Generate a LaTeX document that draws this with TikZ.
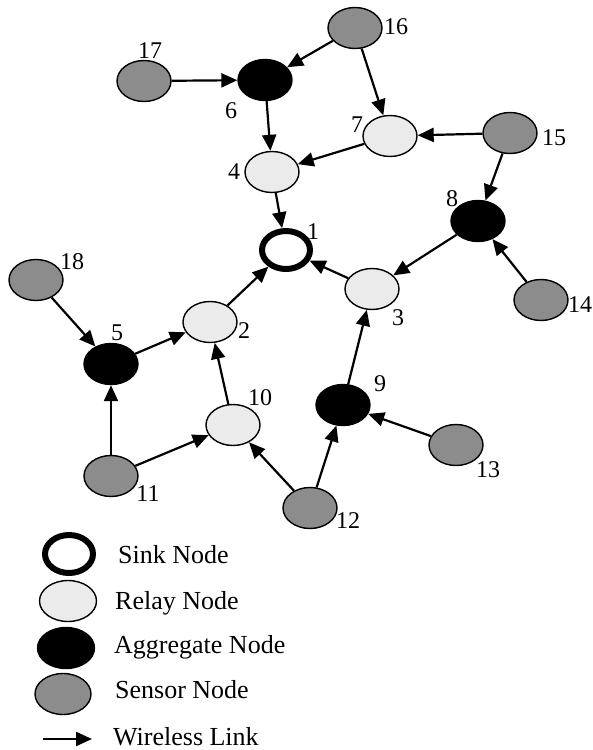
\documentclass[tikz,border=0pt]{standalone}
\usepackage{fontspec}
\setmainfont{Liberation Serif}
\usetikzlibrary{arrows.meta,shapes.geometric}
\definecolor{relayc}{HTML}{EBEBEB}
\definecolor{sensorc}{HTML}{8C8C8C}
\tikzset{
  nd/.style={ellipse, draw=black, line width=1.4pt, minimum width=54pt, minimum height=41pt, inner sep=0pt},
  relay/.style={nd, fill=relayc},
  sensor/.style={nd, fill=sensorc},
  aggr/.style={nd, fill=black},
  sink/.style={ellipse, draw=black, line width=6pt, fill=white, minimum width=48pt, minimum height=38pt, inner sep=0pt},
  lbl/.style={font=\fontsize{24}{24}\selectfont, inner sep=0pt},
  leg/.style={font=\fontsize{26}{26}\selectfont, inner sep=0pt, anchor=base west},
  link/.style={line width=2.2pt, -{Triangle[length=16pt,width=14pt]}}
}
\begin{document}
\begin{tikzpicture}[x=1pt,y=-1pt]
\useasboundingbox (0,0) rectangle (593,750);
% nodes
\node[sink] (n1) at (286,250) {};
\node[relay] (n2) at (210,322) {};
\node[relay] (n3) at (372,289) {};
\node[relay] (n4) at (272,172) {};
\node[aggr] (n5) at (111,364) {};
\node[aggr] (n6) at (265,80) {};
\node[relay] (n7) at (390,136) {};
\node[aggr] (n8) at (478,221) {};
\node[aggr] (n9) at (343,405) {};
\node[relay] (n10) at (233,425) {};
\node[sensor] (n11) at (111,476) {};
\node[sensor] (n12) at (310,508) {};
\node[sensor] (n13) at (456,445) {};
\node[sensor] (n14) at (541,300) {};
\node[sensor] (n15) at (510,133) {};
\node[sensor] (n16) at (355,28) {};
\node[sensor] (n17) at (144,81) {};
\node[sensor] (n18) at (36,280) {};
% labels
\node[lbl] (l1) at (313,232) {1};
\node[lbl] (l2) at (244,331) {2};
\node[lbl] (l3) at (398,318) {3};
\node[lbl] (l4) at (234,172) {4};
\node[lbl] (l5) at (117,333) {5};
\node[lbl] (l6) at (231,111) {6};
\node[lbl] (l7) at (357,125) {7};
\node[lbl] (l8) at (452,199) {8};
\node[lbl] (l9) at (380,384) {9};
\node[lbl] (l10) at (260,398) {10};
\node[lbl] (l11) at (148,494) {11};
\node[lbl] (l12) at (348,521) {12};
\node[lbl] (l13) at (488,470) {13};
\node[lbl] (l14) at (580,305) {14};
\node[lbl] (l15) at (554,138) {15};
\node[lbl] (l16) at (396,27) {16};
\node[lbl] (l17) at (150,51) {17};
\node[lbl] (l18) at (72,262) {18};
% links
\draw[link] (n17) -- (n6);
\draw[link] (n16) -- (n6);
\draw[link] (n16) -- (n7);
\draw[link] (n6) -- (n4);
\draw[link] (n7) -- (n4);
\draw[link] (n15) -- (n7);
\draw[link] (n15) -- (n8);
\draw[link] (n4) -- (n1);
\draw[link] (n8) -- (n3);
\draw[link] (n14) -- (n8);
\draw[link] (n3) -- (n1);
\draw[link] (n2) -- (n1);
\draw[link] (n5) -- (n2);
\draw[link] (n18) -- (n5);
\draw[link] (n11) -- (n5);
\draw[link] (n11) -- (n10);
\draw[link] (n10) -- (n2);
\draw[link] (n12) -- (n10);
\draw[link] (n12) -- (n9);
\draw[link] (n13) -- (n9);
\draw[link] (n9) -- (n3);
% legend
\node[sink] (k1) at (69,554) {};
\node[relay, minimum width=57pt] (k2) at (68,601) {};
\node[aggr, minimum width=57pt] (k3) at (66,648) {};
\node[sensor, minimum width=56pt] (k4) at (63,694) {};
\node[leg] (t1) at (118,563) {Sink Node};
\node[leg] (t2) at (115,609) {Relay Node};
\node[leg] (t3) at (114,653) {Aggregate Node};
\node[leg] (t4) at (115,698) {Sensor Node};
\node[leg] (t5) at (113,745) {Wireless Link};
\coordinate (ka) at (43,739);
\coordinate (kb) at (92,739);
\draw[link] (ka) -- (kb);
\end{tikzpicture}
\end{document}
